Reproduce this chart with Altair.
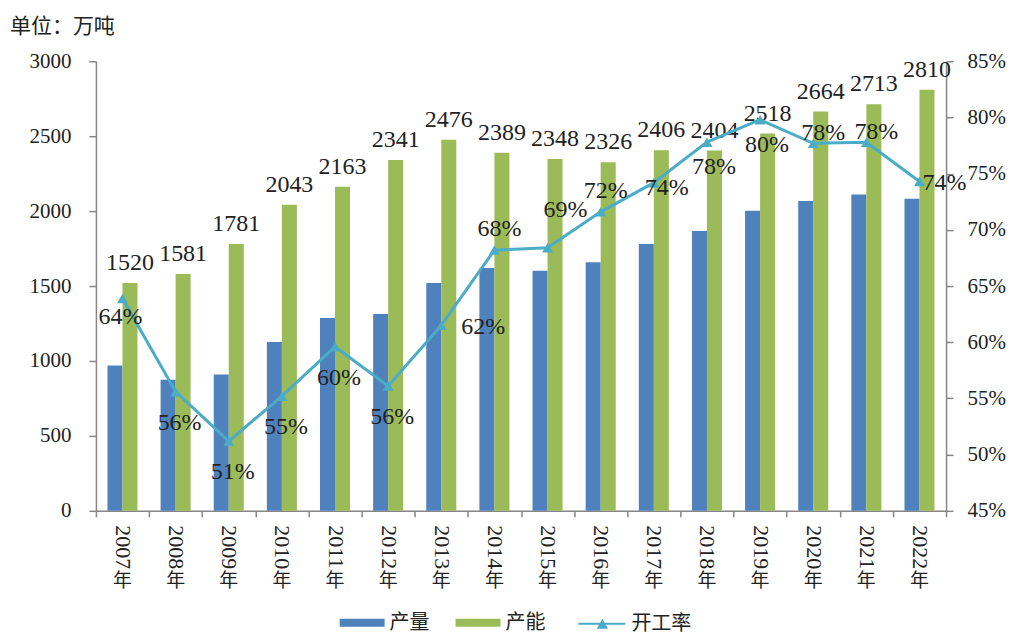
import altair as alt
import pandas as pd

years = ["2007年", "2008年", "2009年", "2010年", "2011年", "2012年", "2013年", "2014年",
         "2015年", "2016年", "2017年", "2018年", "2019年", "2020年", "2021年", "2022年"]
output = [970, 875, 910, 1127, 1287, 1313, 1520, 1620, 1602, 1658, 1780, 1867, 2002, 2067, 2111, 2082]
capacity = [1520, 1581, 1781, 2043, 2163, 2341, 2476, 2389, 2348, 2326, 2406, 2404, 2518, 2664, 2713, 2810]
rate = [63.9, 55.6, 51.2, 55.2, 59.6, 56.1, 61.5, 68.2, 68.4, 71.6, 74.2, 77.8, 79.8, 77.7, 77.8, 74.3]
rate_labels = ["64%", "56%", "51%", "55%", "60%", "56%", "62%", "68%",
               "69%", "72%", "74%", "78%", "80%", "78%", "78%", "74%"]
series_names = ["产量", "产能"]
line_name = "开工率"
left_ticks = [0, 500, 1000, 1500, 2000, 2500, 3000]
right_ticks = [0.45, 0.50, 0.55, 0.60, 0.65, 0.70, 0.75, 0.80, 0.85]

BLUE = "#4F81BD"
GREEN = "#9BBB59"
CYAN = "#4BACC6"
AXIS = "#868686"
TXT = "#222222"
SERIF = "Liberation Serif"
CJK = "Noto Sans CJK SC"

df_bar = pd.DataFrame({
    "year": years * 2,
    "series": [series_names[0]] * len(years) + [series_names[1]] * len(years),
    "value": output + capacity,
})
df_cap = pd.DataFrame({"year": years, "series": [series_names[1]] * len(years), "value": capacity})
df_line = pd.DataFrame({
    "year": years,
    "rate": [r / 100 for r in rate],
    "label": rate_labels,
    "name": [line_name] * len(years),
})

X = alt.X(
    "year:N", sort=years, title=None,
    scale=alt.Scale(paddingInner=0, paddingOuter=0),
    axis=alt.Axis(
        labelAngle=90, labelAlign="left", labelBaseline="middle",
        labelExpr="replace(datum.label, '年', '')",
        tickBand="extent", tickSize=6, labelPadding=8,
        labelFont=SERIF, labelFontSize=22, labelColor=TXT,
        domainColor=AXIS, tickColor=AXIS, domainWidth=1.5, tickWidth=1.5,
    ),
)
XO = alt.XOffset("series:N", sort=series_names,
                 scale=alt.Scale(domain=series_names, paddingInner=0, paddingOuter=0.77))
YL = alt.Y(
    "value:Q", title=None,
    scale=alt.Scale(domain=[0, 3000], nice=False),
    axis=alt.Axis(values=left_ticks, format="d", grid=False, tickSize=7, labelPadding=18,
                  labelFont=SERIF, labelFontSize=21, labelColor=TXT,
                  domainColor=AXIS, tickColor=AXIS, domainWidth=1.5, tickWidth=1.5),
)
YR = alt.Y(
    "rate:Q", title=None,
    scale=alt.Scale(domain=[0.45, 0.85], nice=False, zero=False),
    axis=alt.Axis(orient="right", values=right_ticks, format=".0%", grid=False,
                  tickSize=7, labelPadding=14,
                  labelFont=SERIF, labelFontSize=21, labelColor=TXT,
                  domainColor=AXIS, tickColor=AXIS, domainWidth=1.5, tickWidth=1.5),
)

bars = alt.Chart(df_bar).mark_bar().encode(
    x=X, xOffset=XO, y=YL,
    color=alt.Color(
        "series:N", sort=series_names,
        scale=alt.Scale(domain=series_names, range=[BLUE, GREEN]),
        legend=alt.Legend(
            title=None, orient="none", direction="horizontal",
            legendX=244, legendY=552,
            symbolType="M-1,-0.4H3.5V0.4H-1Z", symbolSize=400, symbolStrokeWidth=0,
            labelOffset=30, columnPadding=26,
            labelFont=CJK, labelFontSize=20, labelColor=TXT,
        ),
    ),
)

cap_labels = alt.Chart(df_cap).mark_text(
    baseline="alphabetic", align="center", dy=-13, font=SERIF, fontSize=24, color=TXT
).encode(x=X, xOffset=XO, y=YL, text="value:Q")

nian = alt.Chart(df_line).mark_text(
    baseline="middle", align="center", font=CJK, fontSize=19, color=TXT
).encode(x=X, y=alt.value(520), text=alt.value("年"))

line = alt.Chart(df_line).mark_line(color=CYAN, strokeWidth=3).encode(x=X, y=YR)
points = alt.Chart(df_line).mark_point(shape="triangle-up", size=120, filled=True, opacity=1).encode(
    x=X, y=YR,
    color=alt.Color(
        "name:N",
        scale=alt.Scale(domain=[line_name], range=[CYAN]),
        legend=alt.Legend(
            title=None, orient="none", direction="horizontal",
            legendX=482, legendY=552,
            symbolType="M-1,0H3.7M1.0,0.4L1.4,-0.3L1.8,0.4Z", symbolSize=400,
            symbolStrokeColor=CYAN, symbolFillColor=CYAN, symbolStrokeWidth=2,
            labelOffset=32,
            labelFont=CJK, labelFontSize=20, labelColor=TXT,
        ),
    ),
)


def rate_layer(sel, dx, dy):
    return alt.Chart(df_line).transform_filter(
        alt.FieldOneOfPredicate(field="year", oneOf=sel)
    ).mark_text(
        dx=dx, dy=dy, baseline="middle", align="center", font=SERIF, fontSize=24, color=TXT
    ).encode(x=X, y=YR, text="label:N")


rate_texts = [
    rate_layer(["2007年"], -2, 19),
    rate_layer(["2008年", "2009年", "2010年", "2011年", "2012年"], 4, 31),
    rate_layer(["2018年", "2019年"], 7, 25),
    rate_layer(["2013年"], 42, 2),
    rate_layer(["2017年"], 13, 5),
    rate_layer(["2022年"], 25, 1),
    rate_layer(["2014年", "2016年"], 5, -21),
    rate_layer(["2015年"], 18, -38),
    rate_layer(["2020年", "2021年"], 10, -10),
]

left = alt.layer(bars, cap_labels, nian)
right = alt.layer(line, points, *rate_texts)

chart = alt.layer(left, right).resolve_scale(
    y="independent", color="independent"
).properties(
    width=851, height=450,
    autosize=alt.AutoSizeParams(type="none"),
    padding={"left": 88, "top": 53, "right": 60, "bottom": 124},
    title=alt.TitleParams(
        "单位：万吨", anchor="start", frame="group", dx=-86, offset=13,
        font=CJK, fontSize=21, fontWeight="normal", color=TXT,
    ),
).configure_view(stroke=None)

chart.save("out.html", embed_options={"renderer": "svg", "actions": False})
